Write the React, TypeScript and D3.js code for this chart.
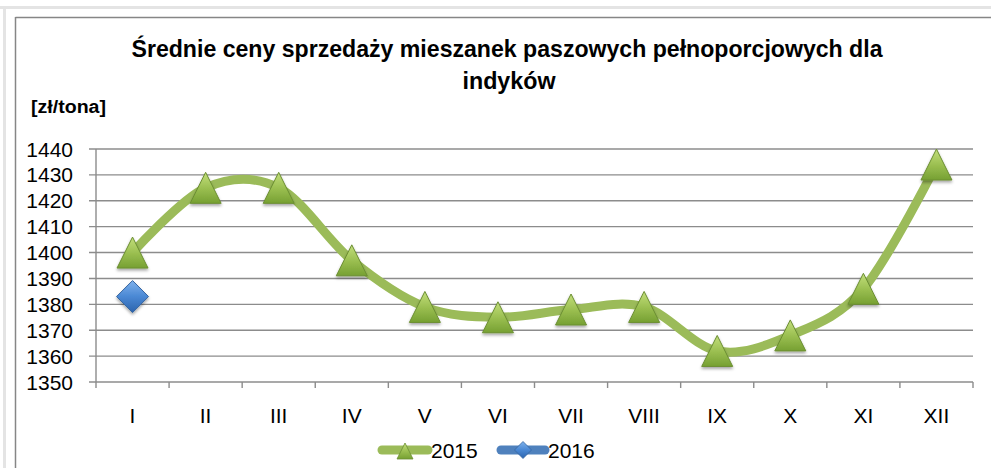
import React from "react";
import * as d3 from "d3";

const months = ["I", "II", "III", "IV", "V", "VI", "VII", "VIII", "IX", "X", "XI", "XII"];
const values2015 = [1400, 1425, 1425, 1397, 1379, 1375, 1378, 1379, 1362, 1368, 1386, 1434];
const values2016 = [1383];
const yTicks = [1350, 1360, 1370, 1380, 1390, 1400, 1410, 1420, 1430, 1440];
const titleLines = ["Średnie ceny sprzedaży mieszanek paszowych pełnoporcjowych dla", "indyków"];
const unitLabel = "[zł/tona]";
const seriesNames = ["2015", "2016"];

const W = 991;
const H = 468;
const plotLeft = 96;
const plotRight = 973;
const plotTop = 149;
const plotBottom = 382;

export default function App() {
  const x = d3.scaleBand<string>().domain(months).range([plotLeft, plotRight]).padding(0);
  const y = d3.scaleLinear().domain([1350, 1440]).range([plotBottom, plotTop]);
  const cx = (m: string) => (x(m) as number) + x.bandwidth() / 2;

  const line = d3
    .line<number>()
    .x((_, i) => cx(months[i]))
    .y((d) => y(d))
    .curve(d3.curveCardinal.tension(0));

  const tri = (s: number) => `M0,${-s / 2} L${s / 2},${s / 2} L${-s / 2},${s / 2} Z`;
  const dia = (s: number) => `M0,${-s / 2} L${s / 2},0 L0,${s / 2} L${-s / 2},0 Z`;

  const boundaries = months.map((m) => x(m) as number).concat([plotRight]);
  const font = "'Liberation Sans', Arial, sans-serif";

  return (
    <svg
      width={W}
      height={H}
      style={{ position: "absolute", left: 0, top: 0, background: "#fff" }}
      fontFamily={font}
    >
      <defs>
        <linearGradient id="gTri" x1="0" y1="0" x2="0" y2="1">
          <stop offset="0" stopColor="#c3df7c" />
          <stop offset="0.5" stopColor="#9cc052" />
          <stop offset="1" stopColor="#76a032" />
        </linearGradient>
        <linearGradient id="gDia" x1="0" y1="0" x2="0" y2="1">
          <stop offset="0" stopColor="#7fb2ec" />
          <stop offset="0.5" stopColor="#4a88d4" />
          <stop offset="1" stopColor="#2c64ad" />
        </linearGradient>
        <filter id="shadow" x="-30%" y="-30%" width="160%" height="170%">
          <feDropShadow dx="0" dy="2" stdDeviation="1.5" floodColor="#000" floodOpacity="0.35" />
        </filter>
      </defs>

      {/* page edges */}
      <line x1={0} x2={W} y1={7.5} y2={7.5} stroke="#e4e4e4" strokeWidth={3} />
      <line x1={4.5} x2={4.5} y1={7} y2={H} stroke="#e4e4e4" strokeWidth={3} />
      {/* chart frame */}
      <line x1={15.5} x2={W} y1={17.5} y2={17.5} stroke="#868686" strokeWidth={1.5} />
      <line x1={15.5} x2={15.5} y1={17} y2={H} stroke="#868686" strokeWidth={1.5} />

      {/* title */}
      <text x={507} y={57} textAnchor="middle" fontWeight="bold" fontSize={24} fill="#000" textLength={751} lengthAdjust="spacingAndGlyphs">
        {titleLines[0]}
      </text>
      <text x={509} y={89} textAnchor="middle" fontWeight="bold" fontSize={24} fill="#000" textLength={93} lengthAdjust="spacingAndGlyphs">
        {titleLines[1]}
      </text>
      <text x={31} y={113} fontWeight="bold" fontSize={18} fill="#000" textLength={75} lengthAdjust="spacingAndGlyphs">
        {unitLabel}
      </text>

      {/* gridlines & y ticks */}
      {yTicks.map((t) => (
        <g key={t}>
          <line x1={89} x2={plotRight} y1={y(t)} y2={y(t)} stroke="#8c8c8c" strokeWidth={1.4} />
          <text x={73} y={y(t)} dy="0.36em" textAnchor="end" fontSize={21} fill="#000">
            {t}
          </text>
        </g>
      ))}
      {/* y axis */}
      <line x1={plotLeft} x2={plotLeft} y1={plotTop} y2={plotBottom} stroke="#8c8c8c" strokeWidth={1.4} />
      {/* x ticks */}
      {boundaries.map((b, i) => (
        <line key={i} x1={b} x2={b} y1={plotBottom} y2={plotBottom + 6} stroke="#8c8c8c" strokeWidth={1.4} />
      ))}
      {months.map((m) => (
        <text key={m} x={cx(m)} y={423} textAnchor="middle" fontSize={21} fill="#000">
          {m}
        </text>
      ))}

      {/* 2015 line */}
      <path d={line(values2015) || ""} fill="none" stroke="#9bbb59" strokeWidth={9} strokeLinecap="round" strokeLinejoin="round" />
      {values2015.map((v, i) => (
        <path
          key={i}
          d={tri(31)}
          transform={`translate(${cx(months[i])},${y(v)})`}
          fill="url(#gTri)"
          stroke="#6b8e32"
          strokeWidth={1}
          filter="url(#shadow)"
        />
      ))}
      {/* 2016 */}
      {values2016.map((v, i) => (
        <path
          key={i}
          d={dia(32)}
          transform={`translate(${cx(months[i])},${y(v)})`}
          fill="url(#gDia)"
          stroke="#35649f"
          strokeWidth={1}
          filter="url(#shadow)"
        />
      ))}

      {/* legend */}
      <line x1={382} x2={428} y1={450} y2={450} stroke="#9bbb59" strokeWidth={9} strokeLinecap="round" />
      <path d={tri(16)} transform="translate(405,451)" fill="url(#gTri)" stroke="#6b8e32" strokeWidth={0.8} />
      <text x={431} y={458} fontSize={21} fill="#000">{seriesNames[0]}</text>
      <line x1={501} x2={545} y1={450} y2={450} stroke="#4f81bd" strokeWidth={9} strokeLinecap="round" />
      <path d={dia(17)} transform="translate(523,450)" fill="url(#gDia)" stroke="#35649f" strokeWidth={0.8} />
      <text x={548} y={458} fontSize={21} fill="#000">{seriesNames[1]}</text>
    </svg>
  );
}
